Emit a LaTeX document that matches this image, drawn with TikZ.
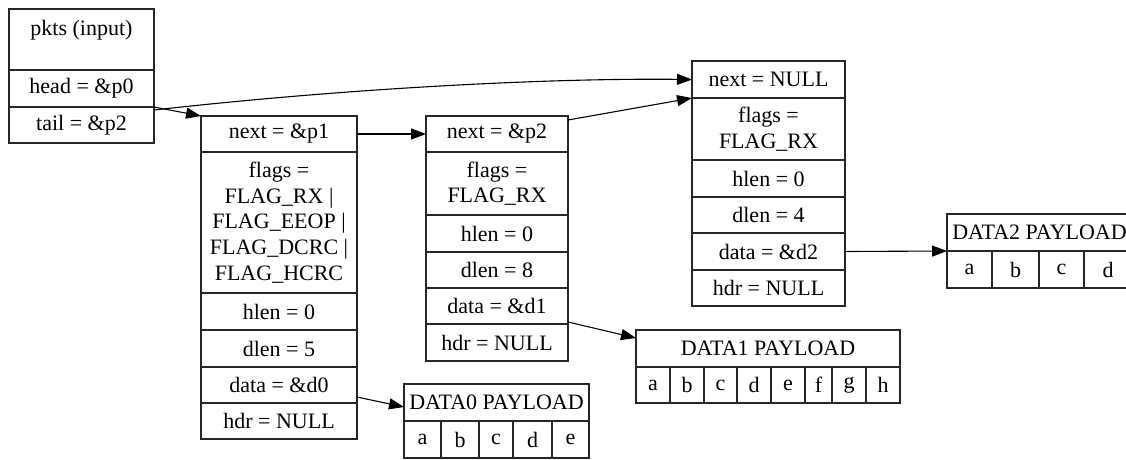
\documentclass[tikz,border=0pt]{standalone}
\usepackage{fontspec}
\setmainfont{Liberation Serif}
\usetikzlibrary{arrows.meta}
\tikzset{
  cell/.style={draw=black!85, line width=1.1pt, inner sep=0pt, outer sep=0pt,
    align=center, font=\fontsize{22}{25.6}\selectfont},
  link/.style={draw=black, line width=1.1pt, -{Triangle[length=15pt,width=11pt]}}
}
% #1 name, #2 x1, #3 y1, #4 x2, #5 y2, #6 text
\newcommand\fld[6]{%
  \node[cell, minimum width={(#4-#2)*1pt}, minimum height={(#5-#3)*1pt}]
    (#1) at ({(#2+#4)/2},{(#3+#5)/2}) {#6};}
\begin{document}
\begin{tikzpicture}[x=1pt,y=-1pt]
\useasboundingbox (0,0) rectangle (1126,459);
\clip (0,0) rectangle (1126,459);
% pkts
\fld{phdr}{9}{9}{154}{70}{\raisebox{-3pt}{pkts (input)}\\\mbox{}}
\fld{phead}{9}{70}{154}{107}{head = \&p0}
\fld{ptail}{9}{107}{154}{143}{tail = \&p2}
% p0
\fld{p0next}{201}{116}{357}{152}{next = \&p1}
\fld{p0flags}{201}{152}{357}{293}{flags =\\FLAG\_RX |\\FLAG\_EEOP |\\FLAG\_DCRC |\\FLAG\_HCRC}
\fld{p0hlen}{201}{293}{357}{330}{hlen = 0}
\fld{p0dlen}{201}{330}{357}{367}{dlen = 5}
\fld{p0data}{201}{367}{357}{403}{data = \&d0}
\fld{p0hdr}{201}{403}{357}{439}{hdr = NULL}
% p1
\fld{p1next}{426}{116}{568}{152}{next = \&p2}
\fld{p1flags}{426}{152}{568}{215}{flags =\\FLAG\_RX}
\fld{p1hlen}{426}{215}{568}{252}{hlen = 0}
\fld{p1dlen}{426}{252}{568}{288}{dlen = 8}
\fld{p1data}{426}{288}{568}{324}{data = \&d1}
\fld{p1hdr}{426}{324}{568}{361}{hdr = NULL}
% p2
\fld{p2next}{692}{61}{845}{98}{next = NULL}
\fld{p2flags}{692}{98}{845}{160}{flags =\\FLAG\_RX}
\fld{p2hlen}{692}{160}{845}{197}{hlen = 0}
\fld{p2dlen}{692}{197}{845}{233}{dlen = 4}
\fld{p2data}{692}{233}{845}{270}{data = \&d2}
\fld{p2hdr}{692}{270}{845}{306}{hdr = NULL}
% DATA0
\fld{d0h}{404}{384}{589}{421}{DATA0 PAYLOAD}
\fld{d0a}{404}{421}{441}{458}{a}
\fld{d0b}{441}{421}{479}{458}{b}
\fld{d0c}{479}{421}{513}{458}{c}
\fld{d0d}{513}{421}{552}{458}{d}
\fld{d0e}{552}{421}{589}{458}{e}
% DATA1
\fld{d1h}{636}{330}{900}{367}{DATA1 PAYLOAD}
\fld{d1a}{636}{367}{670}{403}{a}
\fld{d1b}{670}{367}{704}{403}{b}
\fld{d1c}{704}{367}{737}{403}{c}
\fld{d1d}{737}{367}{771}{403}{d}
\fld{d1e}{771}{367}{805}{403}{e}
\fld{d1f}{805}{367}{832}{403}{f}
\fld{d1g}{832}{367}{866}{403}{g}
\fld{d1h2}{866}{367}{900}{403}{h}
% DATA2
\fld{d2h}{947}{214}{1132}{251}{DATA2 PAYLOAD}
\fld{d2a}{947}{251}{992}{288}{a}
\fld{d2b}{992}{251}{1039}{288}{b}
\fld{d2c}{1039}{251}{1084}{288}{c}
\fld{d2d}{1084}{251}{1132}{288}{d}
% links
\draw[link] (phead.south east) -- (p0next.north west);
\draw[link] ([yshift=-3pt]ptail.north east) .. controls (350,88) and (550,78) .. (p2next.west);
\draw[link] (p0next.east) -- (p1next.west);
\draw[link] ([yshift=-4pt]p1next.north east) -- (p2next.south west);
\draw[link] ([yshift=-12pt]p0data.east) -- ([yshift=-4.5pt]d0h.west);
\draw[link] ([yshift=-16pt]p1data.east) -- ([yshift=10.5pt]d1h.west);
\draw[link] (p2data.east) -- (d2h.south west);
\end{tikzpicture}
\end{document}
